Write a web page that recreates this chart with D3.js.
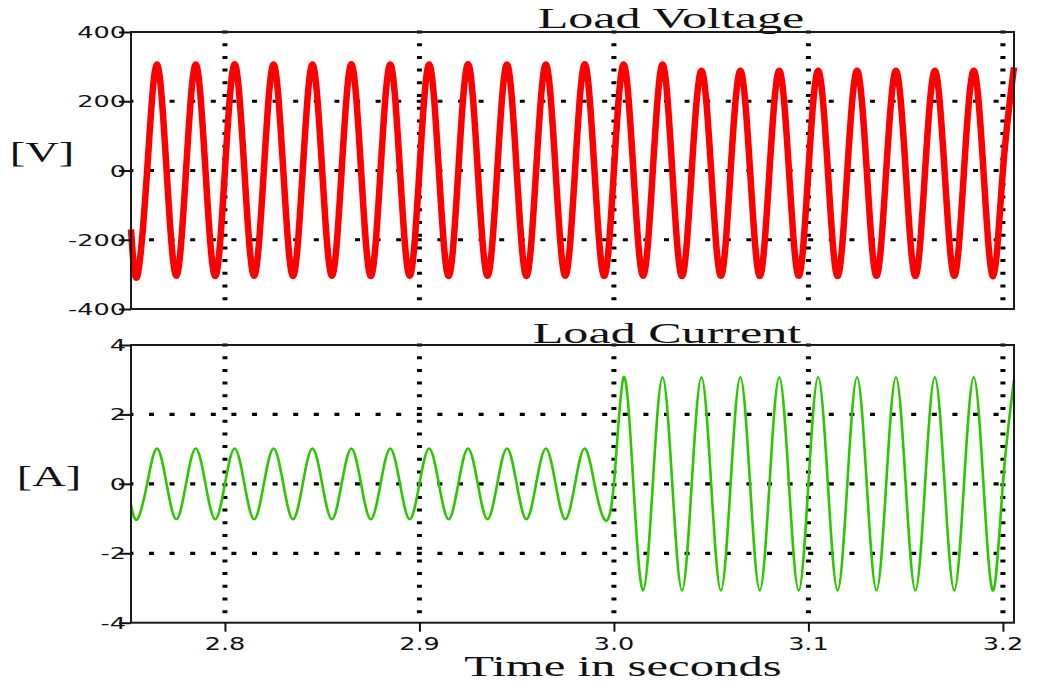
<!DOCTYPE html>
<html>
<head>
<meta charset="utf-8">
<script src="https://cdn.jsdelivr.net/npm/d3@7"></script>
<style>
  html, body { margin: 0; padding: 0; background: #fff; }
  svg { display: block; }
  .tick-label { font-family: "DejaVu Sans", sans-serif; font-size: 16.5px; fill: #111; }
  .serif { font-family: "Liberation Serif", "Times New Roman", serif; fill: #111; }
</style>
</head>
<body>
<svg id="chart" width="1039" height="683"></svg>
<script>
// ---- data -------------------------------------------------------------
const timeWindow = [2.7517, 3.2057];            // seconds shown on the x axis
const firstExtremumTime = 2.755;                // first half-cycle extremum (s)
const halfCycle = 0.01;                         // 50 Hz supply -> 10 ms half-cycle

// Load voltage: extremum of each half-cycle (V), alternating trough / peak
const voltageExtremes = [
  -305, 306, -304, 306, -305, 307, -304, 306, -305, 306,
  -304, 307, -305, 306, -304, 306, -305, 307, -304, 306,
  -305, 306, -304, 307, -305, 306, -304, 306, -305, 288,
  -304, 288, -305, 288, -304, 288, -305, 288, -304, 288,
  -305, 288, -304, 288, -305
];
const voltageEnds = [-170, 298];                // values at the window edges (V)

// Load current: extremum of each half-cycle (A); load steps up at t = 3.0 s
const currentExtremes = [
  -1.02, 1.02, -1.02, 1.02, -1.02, 1.02, -1.02, 1.02, -1.02, 1.02,
  -1.02, 1.02, -1.02, 1.02, -1.02, 1.02, -1.02, 1.02, -1.02, 1.02,
  -1.02, 1.02, -1.02, 1.02, -1.02, 3.07, -3.07, 3.07, -3.07, 3.07,
  -3.07, 3.07, -3.07, 3.07, -3.07, 3.07, -3.07, 3.07, -3.07, 3.07,
  -3.07, 3.07, -3.07, 3.07, -3.07
];
const currentEnds = [-0.6, 3.0];                // values at the window edges (A)

const timeTicks = [2.8, 2.9, 3.0, 3.1, 3.2];
const voltageTicks = [-400, -200, 0, 200, 400];
const currentTicks = [-4, -2, 0, 2, 4];
const voltageGrid = [-200, 0, 200];
const currentGrid = [-2, 0, 2];

// ---- layout -----------------------------------------------------------
const svg = d3.select("#chart");
const left = 131, right = 1014;
const panels = [
  { top: 32,  bottom: 309,   domain: [-400, 400], ticks: voltageTicks, grid: voltageGrid,
    extremes: voltageExtremes, ends: voltageEnds, color: "#ff0000", width: 6.5,
    title: "Load Voltage", titleX: 671, titleY: 28, unit: "[V]", unitX: 42, unitY: 162 },
  { top: 345, bottom: 622.7, domain: [-4, 4], ticks: currentTicks, grid: currentGrid,
    extremes: currentExtremes, ends: currentEnds, color: "#2bc800", width: 2.6,
    title: "Load Current", titleX: 667, titleY: 343, unit: "[A]", unitX: 49, unitY: 486 }
];

const x = d3.scaleLinear().domain(timeWindow).range([left, right]);

// zero crossings sit half-way between the half-cycle extremes
function samples(extremes, ends) {
  const pts = [[timeWindow[0], ends[0]]];
  extremes.forEach((v, k) => {
    const t = firstExtremumTime + k * halfCycle;
    pts.push([t, v]);
    pts.push([t + halfCycle / 2, 0]);
  });
  pts.push([timeWindow[1], ends[1]]);
  return pts;
}

function stretchedText(g, str, px, py, cls, size, sx, anchor) {
  g.append("text")
    .attr("class", cls)
    .attr("transform", `translate(${px},${py}) scale(${sx},1)`)
    .attr("text-anchor", anchor)
    .style("font-size", size + "px")
    .text(str);
}

panels.forEach(p => {
  const y = d3.scaleLinear().domain(p.domain).range([p.bottom, p.top]);
  const g = svg.append("g");

  // dotted grid
  g.selectAll(".hgrid").data(p.grid).join("line")
    .attr("x1", left + 1).attr("x2", right - 1)
    .attr("y1", d => y(d)).attr("y2", d => y(d))
    .attr("stroke", "#000").attr("stroke-width", 3.2)
    .attr("stroke-dasharray", "5,15.6").attr("stroke-dashoffset", -17);
  g.selectAll(".vgrid").data(timeTicks).join("line")
    .attr("x1", d => x(d)).attr("x2", d => x(d))
    .attr("y1", p.top - 1.5).attr("y2", p.bottom - 4)
    .attr("stroke", "#000").attr("stroke-width", 5)
    .attr("stroke-dasharray", "3,9.7");

  // waveform
  const line = d3.line()
    .x(d => x(d[0])).y(d => y(d[1]))
    .curve(d3.curveNatural);
  g.append("path")
    .datum(samples(p.extremes, p.ends))
    .attr("d", line)
    .attr("fill", "none")
    .attr("stroke", p.color)
    .attr("stroke-width", p.width)
    .attr("stroke-linejoin", "round");

  // frame
  g.append("rect")
    .attr("x", left).attr("y", p.top)
    .attr("width", right - left).attr("height", p.bottom - p.top)
    .attr("fill", "none").attr("stroke", "#1a1a1a").attr("stroke-width", 2);

  // y axis ticks and labels
  const yAxis = d3.axisLeft(y).tickValues(p.ticks).tickSize(12);
  const ya = g.append("g").attr("transform", `translate(${left},0)`).call(yAxis);
  ya.select(".domain").remove();
  ya.selectAll(".tick line").attr("stroke", "#111").attr("stroke-width", 2);
  ya.selectAll(".tick text").remove();
  p.ticks.forEach(v => {
    stretchedText(g, String(v), 126, y(v) + 6, "tick-label", 16.5, 1.55, "end");
  });

  // titles
  stretchedText(g, p.title, p.titleX, p.titleY, "serif", 30, 1.67, "middle");
  stretchedText(g, p.unit, p.unitX, p.unitY, "serif", 29, 1.6, "middle");

  // x axis on the lower panel only
  if (p === panels[1]) {
    const xAxis = d3.axisBottom(x).tickValues(timeTicks).tickSize(9);
    const xa = g.append("g").attr("transform", `translate(0,${p.bottom})`).call(xAxis);
    xa.select(".domain").remove();
    xa.selectAll(".tick line").attr("stroke", "#111").attr("stroke-width", 2);
    xa.selectAll(".tick text").remove();
    timeTicks.forEach(t => {
      stretchedText(g, t.toFixed(1), x(t), 650, "tick-label", 17, 1.5, "middle");
    });
    stretchedText(g, "Time in seconds", 623, 676, "serif", 29, 1.68, "middle");
  }
});
</script>
</body>
</html>
